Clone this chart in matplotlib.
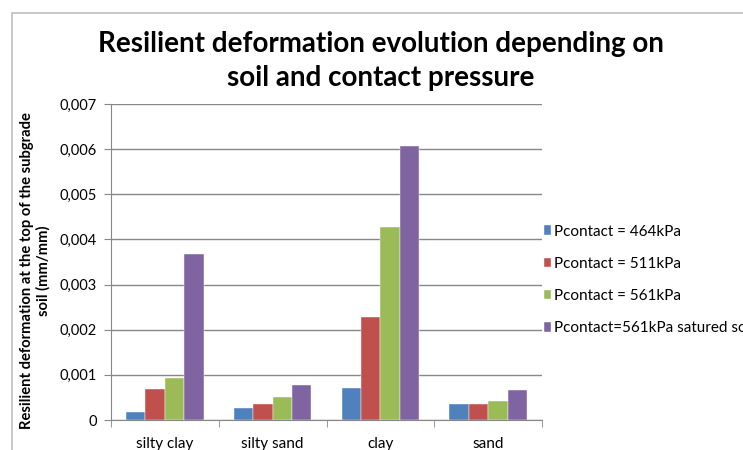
import matplotlib
matplotlib.use("Agg")
import matplotlib.pyplot as plt
import numpy as np
from matplotlib.patches import Rectangle
from matplotlib.ticker import FixedLocator, FuncFormatter

plt.rcParams['font.family'] = ['Lato', 'DejaVu Sans']

categories = ["silty clay", "silty sand", "clay", "sand"]
series_names = ["Pcontact = 464kPa", "Pcontact = 511kPa", "Pcontact = 561kPa",
                "Pcontact=561kPa satured soil"]
p464 = [0.00018, 0.00026, 0.00070, 0.00035]
p511 = [0.00068, 0.00036, 0.00228, 0.00035]
p561 = [0.00092, 0.00052, 0.00427, 0.00041]
p561_sat = [0.00368, 0.00077, 0.00606, 0.00066]
y_ticks = [0, 0.001, 0.002, 0.003, 0.004, 0.005, 0.006, 0.007]

colors = ["#4F81BD", "#C0504D", "#9BBB59", "#8064A2"]
series = [p464, p511, p561, p561_sat]

W, H = 743, 450
fig = plt.figure(figsize=(W / 100, H / 100), dpi=100)

# outer chart border
fig.patches.append(Rectangle((12 / W, -0.1), 1.2, 1.1 - 13 / H, transform=fig.transFigure,
                             fill=False, edgecolor="#BFBFBF", linewidth=1.2))

ax = fig.add_axes([111 / W, (H - 420) / H, (542 - 111) / W, (420 - 104) / H])

x = np.arange(len(categories))
bw = 0.18
for i, (vals, c, name) in enumerate(zip(series, colors, series_names)):
    ax.bar(x + (i - 1.5) * bw, vals, width=bw, color=c, label=name, zorder=3,
           edgecolor="white", linewidth=0.3)

ax.set_xlim(-0.5, len(categories) - 0.5)
ax.set_ylim(0, 0.007)
ax.yaxis.set_major_locator(FixedLocator(y_ticks))
ax.yaxis.set_major_formatter(FuncFormatter(
    lambda v, p: "0" if v == 0 else f"{v:.3f}".replace(".", ",")))
ax.grid(axis="y", color="#878787", linewidth=1.0, zorder=0)
ax.set_axisbelow(True)

ax.set_xticks(x)
ax.set_xticklabels(categories, fontsize=11)
ax.set_xticks(np.arange(-0.5, len(categories)), minor=True)
ax.tick_params(axis="x", which="major", length=0, pad=12)
ax.tick_params(axis="x", which="minor", length=5, color="#878787")
ax.tick_params(axis="y", length=5, color="#878787", labelsize=10.5, pad=5)

for s in ["top", "right"]:
    ax.spines[s].set_visible(False)
for s in ["left", "bottom"]:
    ax.spines[s].set_color("#878787")

fig.text(35 / W, 1 - 271 / H,
         "Resilient deformation at the top of the subgrade\nsoil (mm/mm)",
         rotation=90, ha="center", va="center", fontsize=10.6, fontweight="bold",
         linespacing=1.2)

fig.text(381 / W, 1 - 61 / H,
         "Resilient deformation evolution depending on\nsoil and contact pressure",
         ha="center", va="center", fontsize=20, fontweight="bold", linespacing=1.38)

ax.legend(loc="center left", bbox_to_anchor=(530 / W, 1 - 280 / H),
          bbox_transform=fig.transFigure, frameon=False, fontsize=11,
          handlelength=0.5, handleheight=0.55, handletextpad=0.2, labelspacing=1.2)

fig.savefig("out.png", dpi=100)
